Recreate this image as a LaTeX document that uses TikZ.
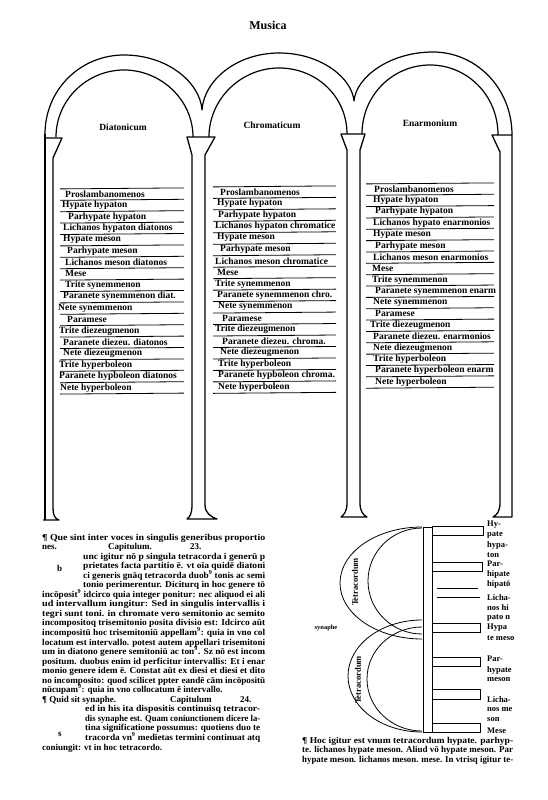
\documentclass[tikz,border=0pt]{standalone}
\usepackage{graphicx}
\usepackage{fontspec}
\setmainfont{Liberation Serif}
\newcommand\bl{\bfseries}
\newcommand\colfont{\bl\fontsize{9.5}{10}\selectfont}
\newcommand\bodyfont{\bl\fontsize{9}{10}\selectfont}
\newcommand\labfont{\bl\fontsize{8.5}{9}\selectfont}
\newcommand\smallfont{\bl\fontsize{6.5}{7}\selectfont}
\newcommand\headfont{\bl\fontsize{9.5}{10}\selectfont}
\newcommand\titlefont{\bl\fontsize{12}{13}\selectfont}
\newcommand\jl[2]{\resizebox{#1pt}{\height}{#2}}
\newcommand\pil{\P\ }
\newcommand\us{\textsuperscript{9}}
\begin{document}
\begin{tikzpicture}[x=1pt,y=-1pt,
  arch/.style={line width=1.2pt,line join=round},
  pillar/.style={line width=1.3pt,line join=round},
  rul/.style={line width=0.8pt},
  thin/.style={line width=0.8pt},
  ctext/.style={font=\colfont,inner sep=0pt,anchor=west},
  btext/.style={font=\bodyfont,inner sep=0pt,anchor=base west,yshift=-3pt},
  ltext/.style={font=\labfont,inner sep=0pt,anchor=west},
  stext/.style={font=\smallfont,inner sep=0pt,anchor=west},
  htext/.style={font=\headfont,inner sep=0pt}]
\fill[white] (0,0) rectangle (548,800);
\useasboundingbox (0,0) rectangle (548,800);

\node[font=\titlefont,inner sep=0pt] (title) at (268,25) {Musica};

% arches: outer line
\draw[arch] (45,134) .. controls (45,90) and (80,55) .. (124,55)
  .. controls (167,55) and (200,82) .. (202,110)
  .. controls (204,80) and (237,53) .. (279,53)
  .. controls (321,53) and (352,78) .. (354,101)
  .. controls (356,77) and (390,52) .. (433,52)
  .. controls (476,52) and (512,88) .. (512,135);
% arches: inner lines
\draw[arch] (56,137) .. controls (56,100) and (87,70) .. (124,70) .. controls (161,70) and (193,100) .. (193,137);
\draw[arch] (209,137) .. controls (209,99) and (241,68) .. (279,68) .. controls (317,68) and (347,97) .. (347,134);
\draw[arch] (362,134) .. controls (362,95) and (393,65) .. (430,65) .. controls (467,65) and (498,95) .. (498,135);

% pillars
\draw[pillar] (45,134) -- (45,520);
\draw[pillar] (45,138) -- (62,138) -- (53,158) -- (53,508) .. controls (53,515) and (55,519) .. (59,520) -- (43,520);
\draw[pillar] (192,505) -- (192,155) -- (187,137) -- (215,137) -- (205,155) -- (205,505);
\draw[pillar] (192,505) .. controls (192,513) and (190,517) .. (187,519) -- (217,519) .. controls (211,517) and (205,513) .. (205,505);
\draw[pillar] (347,503) -- (347,150) -- (341,134) -- (365,134) -- (360,150) -- (360,503);
\draw[pillar] (347,503) .. controls (347,511) and (344,515) .. (341,517) -- (367,517) .. controls (363,515) and (360,511) .. (360,503);
\draw[pillar] (512,135) -- (512,517) -- (493,517) .. controls (497,515) and (500,511) .. (500,503) -- (500,152) -- (492,135) -- (512,135);

% headers
\node[htext] (h1) at (123,127) {Diatonicum};
\node[htext] (h2) at (272,125) {Chromaticum};
\node[htext] (h3) at (430,123) {Enarmonium};

% rules
\foreach \k in {0,...,18} {
  \draw[rul] (60,{188.3+11.4*\k+0.6}) -- (184,{188.3+11.4*\k-0.4});
  \draw[rul] (213,{186.3+11.47*\k+0.6}) -- (336,{186.3+11.47*\k-0.4});
  \draw[rul] (366,{183.3+11.35*\k+0.6}) -- (494,{183.3+11.35*\k-0.4});
}

% column 1
\foreach \x/\t [count=\i] in {65/{Proslambanomenos},62/{Hypate hypaton},68/{Parhypate hypaton},
  63/{Lichanos hypaton diatonos},63/{Hypate meson},67/{Parhypate meson},65/{Lichanos meson diatonos},
  65/{Mese},65/{Trite synemmenon},63/{Paranete synemmenon diat.},58/{Nete synemmenon},67/{Paramese},
  59/{Trite diezeugmenon},63/{Paranete diezeu. diatonos},63/{Nete diezeugmenon},59/{Trite hyperboleon},
  59/{Paranete hypboleon diatonos},60/{Nete hyperboleon}}
  \node[ctext] (da\i) at (\x,{194+11.4*(\i-1)}) {\t};
% column 2
\foreach \x/\t [count=\i] in {220/{Proslambanomenos},217/{Hypate hypaton},218/{Parhypate hypaton},
  215/{Lichanos hypaton chromatice},217/{Hypate meson},220/{Parhypate meson},215/{Lichanos meson chromatice},
  217/{Mese},215/{Trite synemmenon},217/{Paranete synemmenon chro.},218/{Nete synemmenon},222/{Paramese},
  215/{Trite diezeugmenon},222/{Paranete diezeu. chroma.},220/{Nete diezeugmenon},218/{Trite hyperboleon},
  218/{Paranete hypboleon chroma.},218/{Nete hyperboleon}}
  \node[ctext] (ch\i) at (\x,{192+11.47*(\i-1)}) {\t};
% column 3
\foreach \x/\t [count=\i] in {374/{Proslambanomenos},373/{Hypate hypaton},375/{Parhypate hypaton},
  373/{Lichanos hypato enarmonios},373/{Hypate meson},375/{Parhypate meson},373/{Lichanos meson enarmonios},
  372/{Mese},372/{Trite synemmenon},375/{Paranete synemmenon enarm},373/{Nete synemmenon},375/{Paramese},
  370/{Trite diezeugmenon},373/{Paranete diezeu. enarmonios},373/{Nete diezeugmenon},373/{Trite hyperboleon},
  375/{Paranete hyperboleon enarm},375/{Nete hyperboleon}}
  \node[ctext] (en\i) at (\x,{189+11.35*(\i-1)}) {\t};

% left text block
\node[btext] (t1) at (42,537) {\jl{223}{\pil Que sint inter voces in singulis generibus proportio}};
\node[btext] (t2a) at (42,546.5) {nes.};
\node[btext] (t2b) at (108,546.5) {Capitulum.};
\node[btext] (t2c) at (190,546.5) {23.};
\node[btext] (t3) at (83,556) {\jl{182}{unc igitur nō p singula tetracorda i generū p}};
\node[btext] (t4) at (83,565.6) {\jl{182}{prietates facta partitio ē. vt oīa quidē diatoni}};
\node[btext] (t5) at (83,575.1) {\jl{182}{ci generis gnāq tetracorda duob\us{} tonis ac semi}};
\node[btext] (t6) at (83,584.7) {\jl{182}{tonio perimerentur. Diciturq in hoc genere tō}};
\node[btext] (t7) at (42,594.2) {\jl{223}{incōposit\us{} idcirco quia integer ponitur: nec aliquod ei ali}};
\node[btext] (t8) at (42,603.8) {\jl{223}{ud intervallum iungitur: Sed in singulis intervallis i}};
\node[btext] (t9) at (42,613.3) {\jl{223}{tegri sunt toni. in chromate vero semitonio ac semito}};
\node[btext] (t10) at (42,622.9) {\jl{223}{incompositoq trisemitonio posita divisio est: Idcirco aūt}};
\node[btext] (t11) at (42,632.4) {\jl{223}{incompositū hoc trisemitoniū appellam\us: quia in vno col}};
\node[btext] (t12) at (42,642) {\jl{223}{locatum est intervallo. potest autem appellari trisemitoni}};
\node[btext] (t13) at (42,651.5) {\jl{223}{um in diatono genere semitoniū ac ton\us. Sz nō est incom}};
\node[btext] (t14) at (42,661.1) {\jl{223}{positum. duobus enim id perficitur intervallis: Et i enar}};
\node[btext] (t15) at (42,670.6) {\jl{223}{monio genere idem ē. Constat aūt ex diesi et diesi et dito}};
\node[btext] (t16) at (42,680.2) {\jl{223}{no incomposito: quod scilicet ppter eandē cām incōpositū}};
\node[btext] (t17) at (42,689.7) {nūcupam\us: quia in vno collocatum ē intervallo.};
\node[btext] (t18a) at (42,699.3) {\pil Quid sit synaphe.};
\node[btext] (t18b) at (170,699.3) {Capitulum};
\node[btext] (t18c) at (240,699.3) {24.};
\node[btext] (t19) at (85,708.8) {\jl{175}{ed in his ita dispositis continuisq tetracor-}};
\node[btext] (t20) at (85,718.4) {\jl{175}{dis synaphe est. Quam coniunctionem dicere la-}};
\node[btext] (t21) at (85,727.9) {\jl{175}{tina significatione possumus: quotiens duo te}};
\node[btext] (t22) at (85,737.5) {\jl{175}{tracorda vn\us{} medietas termini continuat atq}};
\node[btext] (t23) at (42,747) {coniungit: vt in hoc tetracordo.};
\node[btext] (gb) at (57,568) {b};
\node[btext] (gs) at (58,733) {s};

% tetrachord diagram
\draw[thin] (423,527) rectangle (432,732);
\draw[thin] (432,526) rectangle (483,535);
\draw[thin] (432,562) rectangle (482,571);
\draw[thin] (437,588) -- (478,588);
\draw[thin] (437,597) -- (480,597);
\draw[thin] (432,623) rectangle (480,632);
\draw[thin] (432,657) rectangle (480,666);
\draw[thin] (432,689) rectangle (480,699);
\draw[thin] (432,723) rectangle (480,732);
\draw[thin] (422,639) arc[start angle=90,end angle=270,x radius=82,y radius=56];
\draw[thin] (422,634) arc[start angle=90,end angle=270,x radius=54,y radius=53];
\draw[thin] (422,732) arc[start angle=90,end angle=270,x radius=74,y radius=56];
\draw[thin] (422,731) arc[start angle=90,end angle=270,x radius=55,y radius=52];
\node[ltext,anchor=center,rotate=90] (tc1) at (355,582) {Tetracordum};
\node[ltext,anchor=center,rotate=90] (tc2) at (358,680) {Tetracordum};
\node[stext,anchor=center] (syn) at (326,628) {synaphe};
\foreach \y/\t [count=\i] in {525/{Hy-},535/{pate},545/{hypa-},555/{ton},564/{Par-},574/{hipate},584/{hipatō},
  598/{Licha-},608/{nos hi},618/{pato n},628/{Hypa},638/{te meso},659/{Par-},670/{hypate},680/{meson},
  700/{Licha-},710/{nos me},720/{son},731/{Mese}}
  \node[ltext] (lab\i) at (487,\y) {\t};

% bottom right text
\node[btext] (r1) at (302,740) {\jl{211}{\pil Hoc igitur est vnum tetracordum hypate. parhyp-}};
\node[btext] (r2) at (302,749.5) {\jl{211}{te. lichanos hypate meson. Aliud vō hypate meson. Par}};
\node[btext] (r3) at (302,759) {\jl{211}{hypate meson. lichanos meson. mese. In vtrisq igitur te-}};
\end{tikzpicture}
\end{document}
